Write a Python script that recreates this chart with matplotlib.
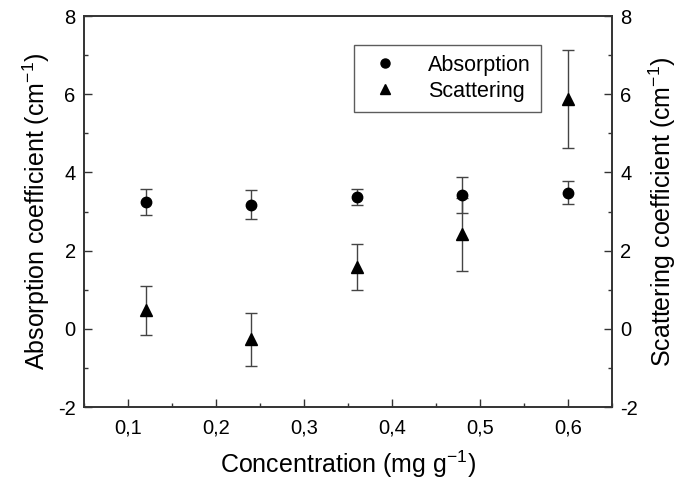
import matplotlib
matplotlib.use("Agg")
import matplotlib.pyplot as plt
from matplotlib.ticker import FuncFormatter, MultipleLocator
from matplotlib.lines import Line2D

plt.rcParams['font.family'] = ['Liberation Sans', 'DejaVu Sans']
plt.rcParams['mathtext.fontset'] = 'custom'
plt.rcParams['mathtext.rm'] = 'Liberation Sans'
plt.rcParams['mathtext.it'] = 'Liberation Sans:italic'
plt.rcParams['axes.unicode_minus'] = False

concentration = [0.12, 0.24, 0.36, 0.48, 0.60]
absorption = [3.25, 3.17, 3.37, 3.41, 3.48]
absorption_err = [0.33, 0.37, 0.21, 0.46, 0.29]
scattering = [0.47, -0.27, 1.57, 2.42, 5.87]
scattering_err = [0.63, 0.68, 0.59, 0.93, 1.25]
labels = ['Absorption', 'Scattering']

fig = plt.figure(figsize=(6.78, 4.86), dpi=100)
ax = fig.add_axes([84/678, 1-407/486, (612-84)/678, (407-16)/486])
ax2 = ax.twinx()

ebc = '#444444'
ax.errorbar(concentration, scattering, yerr=scattering_err, fmt='^', color='black',
            ms=9, ecolor=ebc, elinewidth=1.0, capsize=4, capthick=1.0, zorder=2)
ax.errorbar(concentration, absorption, yerr=absorption_err, fmt='o', color='black',
            ms=7.5, ecolor=ebc, elinewidth=1.0, capsize=4, capthick=1.0, zorder=3)

for a in (ax, ax2):
    a.set_ylim(-2, 8)
    a.yaxis.set_major_locator(MultipleLocator(2))
    a.yaxis.set_minor_locator(MultipleLocator(1))
    a.yaxis.set_major_formatter(FuncFormatter(lambda v, p: f"{v:.0f}"))
    for s in a.spines.values():
        s.set_color('#333333')
        s.set_linewidth(1.2)

ax.set_xlim(0.05, 0.65)
ax.xaxis.set_major_locator(MultipleLocator(0.1))
ax.xaxis.set_minor_locator(MultipleLocator(0.05))
ax.xaxis.set_major_formatter(FuncFormatter(lambda v, p: f"{v:.1f}".replace('.', ',')))

ax.tick_params(axis='both', which='major', direction='in', length=6, width=1.0,
               color='#333333', labelsize=14.5, top=False, right=False)
ax.tick_params(axis='both', which='minor', direction='in', length=3, width=1.0,
               color='#333333', top=False, right=False)
ax.tick_params(axis='x', pad=8)
ax.tick_params(axis='y', pad=6)
ax2.tick_params(axis='y', which='major', direction='in', length=6, width=1.0,
                color='#333333', labelsize=14.5, pad=6)
ax2.tick_params(axis='y', which='minor', direction='in', length=3, width=1.0,
                color='#333333')

ax.set_xlabel('Concentration (mg g$^{-1}$)', fontsize=18, labelpad=8)
ax.set_ylabel('Absorption coefficient (cm$^{-1}$)', fontsize=18, labelpad=4)
ax2.set_ylabel('Scattering coefficient (cm$^{-1}$)', fontsize=18, labelpad=6)

handles = [Line2D([], [], marker='o', ls='none', color='black', ms=6.5),
           Line2D([], [], marker='^', ls='none', color='black', ms=7.5)]
leg = ax.legend(handles, labels, loc='upper left', bbox_to_anchor=(0.511, 0.926),
                fontsize=15.5, frameon=True, fancybox=False, edgecolor='#333333',
                borderpad=0.45, handletextpad=1.0, labelspacing=0.25,
                borderaxespad=0, handlelength=2.0)
leg.get_frame().set_linewidth(1.0)

fig.savefig('out.png', dpi=100)
